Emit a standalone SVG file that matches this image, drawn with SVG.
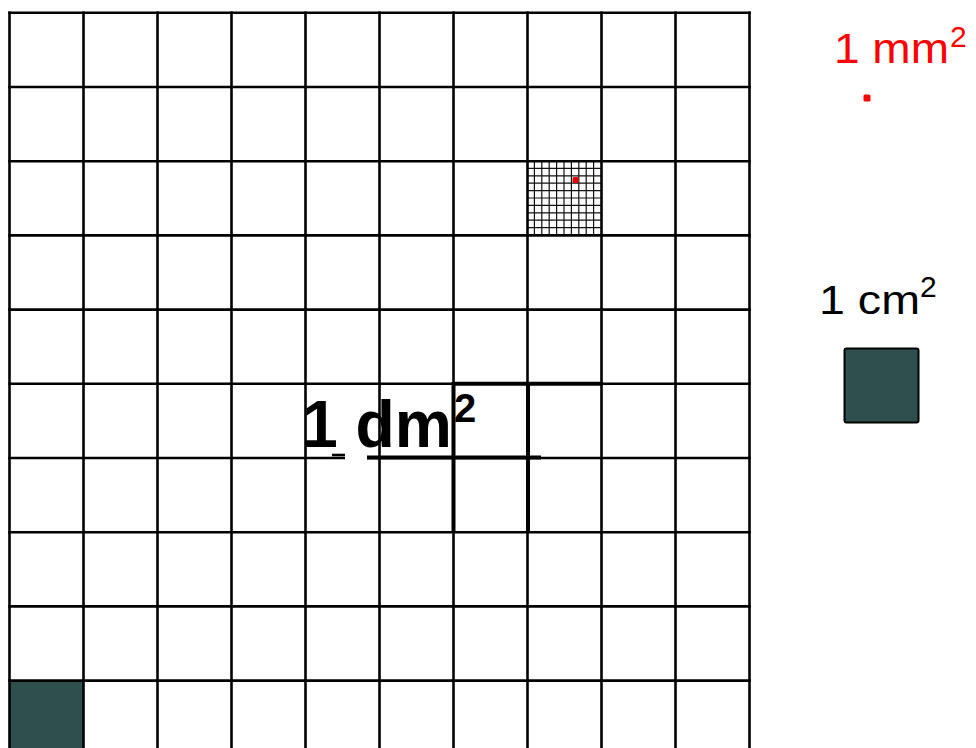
<svg xmlns="http://www.w3.org/2000/svg" width="976" height="748" viewBox="0 0 976 748">
<style>
.g line{stroke:#000;stroke-width:2.6}
.s line{stroke:#111;stroke-width:1.2}
.t line{stroke:#000;stroke-width:4}
.lbl{font-family:"Liberation Sans",Arial,sans-serif}
</style>
<rect width="976" height="748" fill="#fff"/>
<g id="small-cell-grid" class="s">
<line x1="534.4" y1="161" x2="534.4" y2="235"/><line x1="541.8" y1="161" x2="541.8" y2="235"/><line x1="549.2" y1="161" x2="549.2" y2="235"/><line x1="556.6" y1="161" x2="556.6" y2="235"/><line x1="564" y1="161" x2="564" y2="235"/><line x1="571.4" y1="161" x2="571.4" y2="235"/><line x1="578.8" y1="161" x2="578.8" y2="235"/><line x1="586.2" y1="161" x2="586.2" y2="235"/><line x1="593.6" y1="161" x2="593.6" y2="235"/>
<line x1="527" y1="168.4" x2="601" y2="168.4"/><line x1="527" y1="175.8" x2="601" y2="175.8"/><line x1="527" y1="183.2" x2="601" y2="183.2"/><line x1="527" y1="190.6" x2="601" y2="190.6"/><line x1="527" y1="198" x2="601" y2="198"/><line x1="527" y1="205.4" x2="601" y2="205.4"/><line x1="527" y1="212.8" x2="601" y2="212.8"/><line x1="527" y1="220.2" x2="601" y2="220.2"/><line x1="527" y1="227.6" x2="601" y2="227.6"/>
</g>
<rect id="dm-corner-square" x="9.5" y="680.5" width="73.5" height="70" fill="#2f4f4f"/>
<g id="grid" class="g">
<line x1="9.5" y1="11.5" x2="9.5" y2="750"/><line x1="83.5" y1="11.5" x2="83.5" y2="750"/><line x1="157.5" y1="11.5" x2="157.5" y2="750"/><line x1="231.5" y1="11.5" x2="231.5" y2="750"/><line x1="305.5" y1="11.5" x2="305.5" y2="750"/><line x1="379.5" y1="11.5" x2="379.5" y2="750"/><line x1="453.5" y1="11.5" x2="453.5" y2="750"/><line x1="527.5" y1="11.5" x2="527.5" y2="750"/><line x1="601.5" y1="11.5" x2="601.5" y2="750"/><line x1="675.5" y1="11.5" x2="675.5" y2="750"/><line x1="749.5" y1="11.5" x2="749.5" y2="750"/>
<line x1="8.2" y1="12.8" x2="750.8" y2="12.8"/><line x1="8.2" y1="87" x2="750.8" y2="87"/><line x1="8.2" y1="161.2" x2="750.8" y2="161.2"/><line x1="8.2" y1="235.4" x2="750.8" y2="235.4"/><line x1="8.2" y1="309.6" x2="750.8" y2="309.6"/><line x1="8.2" y1="383.8" x2="750.8" y2="383.8"/><line x1="8.2" y1="458" x2="750.8" y2="458"/><line x1="8.2" y1="532.2" x2="750.8" y2="532.2"/><line x1="8.2" y1="606.4" x2="750.8" y2="606.4"/><line x1="8.2" y1="680.6" x2="750.8" y2="680.6"/>
</g>
<g id="dm-highlight" class="t">
<line x1="453.5" y1="383.8" x2="603" y2="383.8"/>
<line x1="453.5" y1="382" x2="453.5" y2="532"/>
<line x1="528" y1="382" x2="528" y2="532"/>
<line x1="367" y1="457.5" x2="541" y2="457.5"/>
</g>
<rect x="345" y="454" width="22" height="6" fill="#fff"/>
<line x1="332" y1="455" x2="345" y2="455" stroke="#000" stroke-width="2.6"/>
<rect id="mm-dot-in-grid" x="572.5" y="177" width="6" height="6" rx="1.5" fill="#e00000"/>
<g id="label-dm">
<text class="lbl" x="302" y="447" font-size="66" font-weight="bold" fill="#000" textLength="150" lengthAdjust="spacingAndGlyphs">1 dm</text>
<text class="lbl" x="454" y="422" font-size="40" font-weight="bold" fill="#000">2</text>
</g>
<g id="label-mm">
<text class="lbl" x="834" y="63" font-size="42" fill="#ff0000" textLength="115" lengthAdjust="spacingAndGlyphs">1 mm</text>
<text class="lbl" x="950" y="47" font-size="30" fill="#ff0000">2</text>
<rect x="863.5" y="94.5" width="7" height="7" rx="1.5" fill="#ff0000"/>
</g>
<g id="label-cm">
<text class="lbl" x="819" y="314" font-size="41" fill="#000" textLength="101" lengthAdjust="spacingAndGlyphs">1 cm</text>
<text class="lbl" x="920" y="297" font-size="30" fill="#000">2</text>
<rect x="844.5" y="348.5" width="74" height="74" rx="2" fill="#2f4f4f" stroke="#000" stroke-width="2"/>
</g>
</svg>
